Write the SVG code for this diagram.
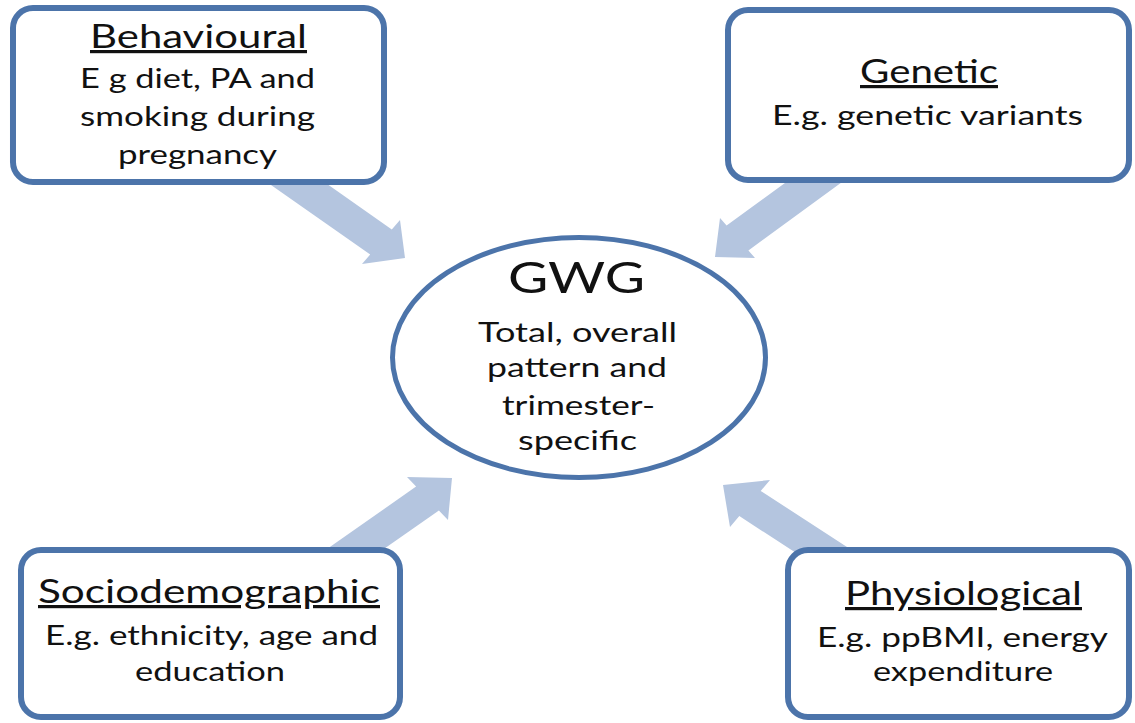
<svg xmlns="http://www.w3.org/2000/svg" width="1135" height="723" viewBox="0 0 1135 723">
<style>
.bg{fill:#ffffff}
.arrow{fill:#b4c5df;stroke:none}
.box{fill:#ffffff;stroke:#4c74aa;stroke-width:6}
.ell{fill:#ffffff;stroke:#4c74aa;stroke-width:5}
text{font-family:Lato,"Open Sans","Liberation Sans",sans-serif;fill:#111111;text-anchor:middle}
.title{font-size:32px;text-decoration:underline}
.body{font-size:26px}
.gwg{font-size:43px}
.ebody{font-size:27px}
</style>
<rect class="bg" x="0" y="0" width="1135" height="723"/>
<g id="connectors">
<polygon class="arrow" points="405,258 400,220 391.8,229.5 293,160 271,185 370.2,254.5 362,264"/>
<polygon class="arrow" points="715,257 720,218 726.6,225.6 831.6,148.9 853.4,173.7 748.4,250.4 755,258"/>
<polygon class="arrow" points="452,478 407,477 416.1,486.6 309.5,561.2 332.3,585 438.9,510.4 448,520"/>
<polygon class="arrow" points="723,485 770,480 760.7,490.9 869.7,561.7 848.3,586.9 739.3,516.1 730,527"/>
</g>
<g id="behavioural">
<rect class="box" x="13" y="8" width="371" height="174" rx="20"/>
<text class="title" x="198.5" y="48" textLength="217" lengthAdjust="spacingAndGlyphs">Behavioural</text>
<text class="body" x="197.5" y="88" textLength="235" lengthAdjust="spacingAndGlyphs">E g diet, PA and</text>
<text class="body" x="197.5" y="126" textLength="235" lengthAdjust="spacingAndGlyphs">smoking during</text>
<text class="body" x="197.5" y="164" textLength="159" lengthAdjust="spacingAndGlyphs">pregnancy</text>
</g>
<g id="genetic">
<rect class="box" x="728" y="10" width="401" height="170" rx="20"/>
<text class="title" x="929" y="83" textLength="138" lengthAdjust="spacingAndGlyphs">Genetic</text>
<text class="body" x="927.5" y="125" textLength="311" lengthAdjust="spacingAndGlyphs">E.g. genetic variants</text>
</g>
<g id="gwg">
<ellipse class="ell" cx="579" cy="357.5" rx="186.5" ry="120"/>
<text class="gwg" x="576.5" y="293" textLength="137" lengthAdjust="spacingAndGlyphs">GWG</text>
<text class="ebody" x="577.5" y="342" textLength="199" lengthAdjust="spacingAndGlyphs">Total, overall</text>
<text class="ebody" x="577" y="377" textLength="180" lengthAdjust="spacingAndGlyphs">pattern and</text>
<text class="ebody" x="578.5" y="415" textLength="153" lengthAdjust="spacingAndGlyphs">trimester-</text>
<text class="ebody" x="577.5" y="450" textLength="119" lengthAdjust="spacingAndGlyphs">specific</text>
</g>
<g id="sociodemographic">
<rect class="box" x="21" y="550" width="379" height="167" rx="20"/>
<text class="title" x="209" y="603" textLength="342" lengthAdjust="spacingAndGlyphs">Sociodemographic</text>
<text class="body" x="211.5" y="645" textLength="333" lengthAdjust="spacingAndGlyphs">E.g. ethnicity, age and</text>
<text class="body" x="210" y="681" textLength="150" lengthAdjust="spacingAndGlyphs">education</text>
</g>
<g id="physiological">
<rect class="box" x="788" y="550" width="341" height="167" rx="20"/>
<text class="title" x="963.5" y="605" textLength="237" lengthAdjust="spacingAndGlyphs">Physiological</text>
<text class="body" x="962.5" y="647" textLength="291" lengthAdjust="spacingAndGlyphs">E.g. ppBMI, energy</text>
<text class="body" x="963" y="681" textLength="180" lengthAdjust="spacingAndGlyphs">expenditure</text>
</g>
</svg>
